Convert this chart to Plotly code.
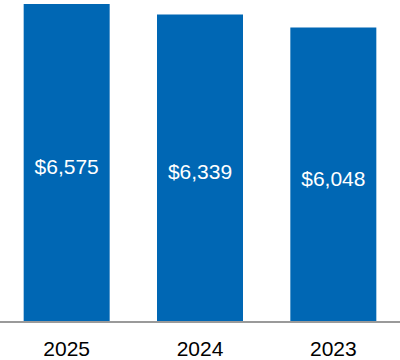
import plotly.graph_objects as go

years = ["2025", "2024", "2023"]
values = [6575, 6339, 6048]
labels = ["$6,575", "$6,339", "$6,048"]

Y_MIN = -495
Y_MAX = 6663
BASE = Y_MIN - 180

fig = go.Figure(go.Bar(
    x=years, y=[v - BASE for v in values], base=BASE, text=labels,
    texttemplate="%{text}",
    textposition="inside", insidetextanchor="middle",
    textfont=dict(color="white", size=21, family="Liberation Sans, Arial, sans-serif"),
    marker=dict(color="#0067B4", line=dict(width=0)),
    hoverinfo="skip",
))

fig.update_layout(
    width=400, height=360,
    margin=dict(l=0, r=0, t=0, b=34),
    plot_bgcolor="white", paper_bgcolor="white",
    bargap=0.355,
    showlegend=False,
    font=dict(family="Liberation Sans, Arial, sans-serif", color="black"),
)
fig.update_xaxes(
    showline=True, linecolor="#9a9a9a", linewidth=2,
    tickfont=dict(size=21, color="black"),
    ticks="", ticklabelstandoff=8,
    showgrid=False, zeroline=False,
)
fig.update_yaxes(
    range=[Y_MIN, Y_MAX], visible=False, showgrid=False, zeroline=False,
)

fig.write_html("out.html", config={"displayModeBar": False, "staticPlot": True},
               post_script="document.body.style.margin='0';document.body.style.overflow='hidden';")
